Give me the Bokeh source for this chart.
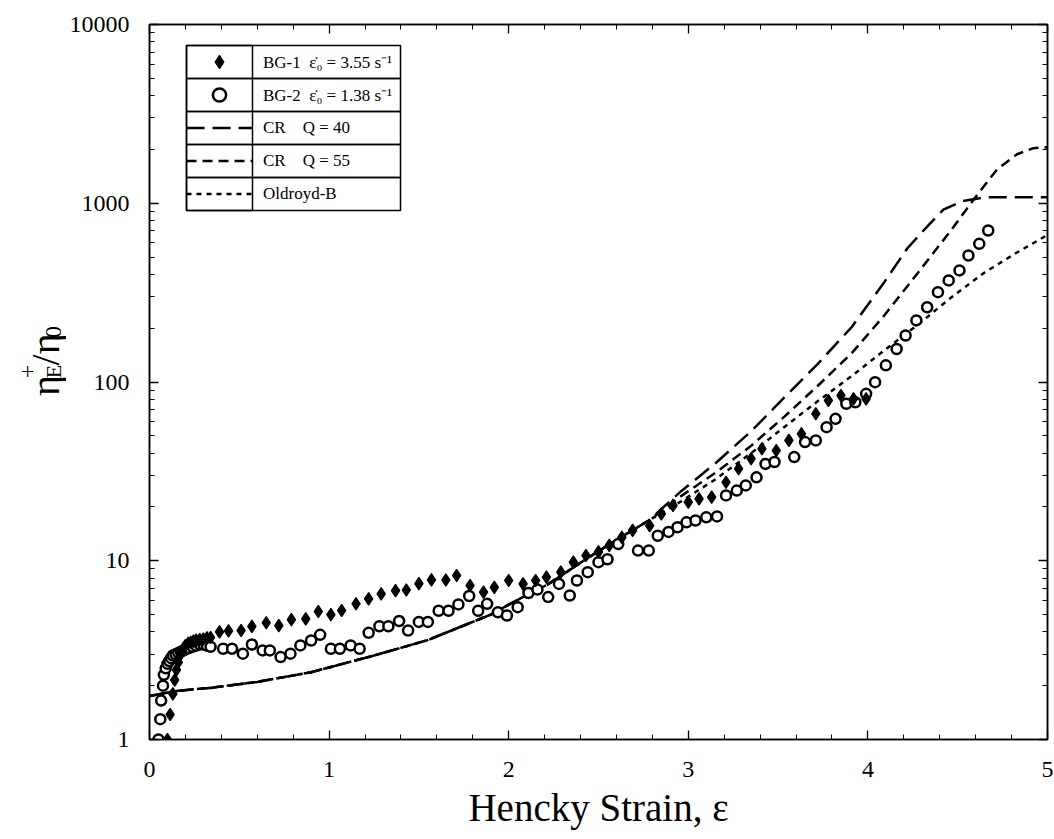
import math
from bokeh.plotting import figure
from bokeh.layouts import row
from bokeh.models import (FixedTicker, Legend, LegendItem, BoxAnnotation,
                          LinearAxis, LogAxis, Range1d, NumeralTickFormatter,
                          CustomJSTickFormatter, ColumnDataSource)
from bokeh.core.properties import value
from bokeh.embed import file_html
from bokeh.resources import INLINE

# ---------------- data ----------------
bg1_x = [0.10, 0.115, 0.13, 0.14, 0.15, 0.16, 0.17, 0.18, 0.19, 0.20, 0.215, 0.23, 0.245,
         0.26, 0.28, 0.30, 0.32, 0.34,
         0.39, 0.44, 0.51, 0.57, 0.65, 0.72, 0.79, 0.87, 0.94, 1.01, 1.07, 1.15, 1.22,
         1.29, 1.37, 1.43, 1.50, 1.57, 1.65, 1.71, 1.785, 1.86, 1.92, 2.00, 2.08, 2.15,
         2.21, 2.29, 2.36, 2.43, 2.50, 2.56, 2.63, 2.69, 2.785, 2.85, 2.915, 3.00, 3.06,
         3.13, 3.21, 3.28, 3.35, 3.41, 3.49, 3.56, 3.63, 3.71, 3.78, 3.85, 3.92, 3.99]
bg1_y = [1.0, 1.38, 1.8, 2.15, 2.45, 2.7, 2.95, 3.1, 3.25, 3.35, 3.45, 3.5, 3.55,
         3.6, 3.62, 3.65, 3.7, 3.72,
         4.0, 4.05, 4.07, 4.29, 4.5, 4.34, 4.68, 4.73, 5.2, 5.0, 5.27, 5.75, 6.12,
         6.53, 6.8, 6.86, 7.45, 7.82, 7.8, 8.27, 7.27, 6.67, 7.1, 7.75, 7.42, 7.75,
         8.09, 8.63, 9.82, 10.7, 11.2, 12.2, 13.5, 14.8, 15.7, 18.3, 20.4, 21.3, 22.2,
         22.7, 27.5, 32.7, 37.2, 42.3, 41.4, 47.1, 51.3, 66.4, 78.8, 84.0, 80.5, 80.5]

bg2_x = [0.05, 0.06, 0.065, 0.075, 0.08, 0.09, 0.10, 0.11, 0.12, 0.13, 0.145, 0.16, 0.175,
         0.19, 0.205, 0.22, 0.24, 0.26, 0.28, 0.30, 0.32, 0.34,
         0.41, 0.46, 0.52, 0.57, 0.63, 0.67, 0.73, 0.785, 0.84, 0.90, 0.95, 1.01, 1.06,
         1.12, 1.17, 1.22, 1.28, 1.33, 1.39, 1.44, 1.50, 1.55, 1.61, 1.665, 1.72, 1.78,
         1.83, 1.88, 1.94, 1.99, 2.05, 2.11, 2.16, 2.22, 2.28, 2.34, 2.38, 2.44, 2.50,
         2.55, 2.61, 2.72, 2.78, 2.83, 2.89, 2.94, 2.99, 3.04, 3.10, 3.16, 3.21, 3.27,
         3.32, 3.38, 3.43, 3.48, 3.59, 3.65, 3.71, 3.77, 3.82, 3.88, 3.93, 3.99, 4.04,
         4.10, 4.16, 4.21, 4.27, 4.33, 4.39, 4.45, 4.51, 4.56, 4.62, 4.67]
bg2_y = [1.0, 1.3, 1.65, 2.0, 2.3, 2.5, 2.65, 2.75, 2.85, 2.95, 3.0, 3.05, 3.1,
         3.15, 3.2, 3.25, 3.3, 3.35, 3.4, 3.4, 3.35, 3.3,
         3.22, 3.22, 3.02, 3.40, 3.15, 3.15, 2.89, 3.02, 3.36, 3.58, 3.85, 3.22, 3.22,
         3.36, 3.22, 3.95, 4.3, 4.3, 4.6, 4.07, 4.55, 4.55, 5.25, 5.25, 5.7, 6.35,
         5.25, 5.74, 5.15, 4.94, 5.5, 6.6, 6.9, 6.26, 7.42, 6.39, 7.75, 8.63, 9.82,
         10.2, 12.4, 11.4, 11.4, 13.8, 14.5, 15.4, 16.4, 16.8, 17.5, 17.7, 23.2, 24.7,
         26.4, 29.3, 34.8, 35.7, 38.0, 46.1, 47.1, 55.9, 62.2, 75.5, 77.0, 85.9, 99.8,
         124, 153, 182, 221, 262, 318, 370, 421, 510, 593, 704]

cr40_x = [0.0, 0.15, 0.35, 0.6, 0.9, 1.25, 1.55, 1.9, 2.03, 2.22, 2.41, 2.59, 2.78,
          2.96, 3.15, 3.35, 3.535, 3.72, 3.91, 4.09, 4.22, 4.33, 4.42, 4.53, 4.65, 5.0]
cr40_y = [1.75, 1.87, 1.95, 2.1, 2.38, 2.95, 3.6, 5.0, 5.9, 7.4, 9.9, 12.9, 16.8,
          24.5, 35, 53, 82, 126, 203, 360, 560, 740, 920, 1030, 1080, 1080]

cr55_x = [0.0, 0.15, 0.35, 0.6, 0.9, 1.25, 1.55, 1.9, 2.03, 2.22, 2.41, 2.59, 2.78,
          2.96, 3.15, 3.35, 3.535, 3.72, 3.91, 4.09, 4.28, 4.46, 4.61, 4.72, 4.83, 4.92, 5.0]
cr55_y = [1.75, 1.87, 1.95, 2.1, 2.38, 2.95, 3.6, 5.0, 5.9, 7.4, 9.9, 12.9, 16.8,
          23, 31, 44, 64, 95, 145, 235, 410, 700, 1120, 1550, 1880, 2030, 2060]

ob_x = [0.0, 0.15, 0.35, 0.6, 0.9, 1.25, 1.55, 1.9, 2.03, 2.22, 2.41, 2.59, 2.78,
        2.96, 3.15, 3.35, 3.535, 3.72, 3.91, 4.09, 4.28, 4.46, 4.65, 4.83, 5.0]
ob_y = [1.75, 1.87, 1.95, 2.1, 2.38, 2.95, 3.6, 5.0, 5.9, 7.4, 9.9, 12.9, 16.8,
        21.5, 28.5, 40, 56, 78, 108, 150, 210, 295, 410, 530, 665]

x_ticks = [0, 1, 2, 3, 4, 5]
y_ticks = [1, 10, 100, 1000, 10000]

legend_labels = ["BG-1  ε̇₀ = 3.55 s⁻¹", "BG-2  ε̇₀ = 1.38 s⁻¹",
                 "CR    Q = 40", "CR    Q = 55", "Oldroyd-B"]

# y-axis title pieces: η_E^+ / η_0
ylabel_text = ["η", "+", "E", "/η", "0"]
ylabel_size = ["40px", "24px", "22px", "40px", "24px"]

# ---------------- layout ----------------
W, H = 1054, 839
LW = 66                      # width of the strip that carries the y-axis title
FL, FR, FT, FB = 147, 7, 24, 100
SERIF = "Liberation Serif"

p = figure(width=W - LW, height=H, y_axis_type="log",
           x_range=Range1d(0, 5), y_range=Range1d(1, 10000),
           output_backend="svg", toolbar_location=None,
           min_border_left=FL - LW, min_border_right=FR,
           min_border_top=FT, min_border_bottom=FB)
p.background_fill_color = "white"
p.border_fill_color = "white"
p.outline_line_color = "black"
p.outline_line_width = 1.5
p.xgrid.visible = False
p.ygrid.visible = False

x_minor = [round(0.2 * i, 2) for i in range(26)]
y_minor = [m * 10 ** e for e in range(4) for m in range(2, 10)]
xt = FixedTicker(ticks=x_ticks, minor_ticks=x_minor)
yt = FixedTicker(ticks=y_ticks, minor_ticks=y_minor)


def style_axis(ax):
    ax.axis_line_color = "black"
    ax.axis_line_width = 1.5
    ax.major_tick_in = 9
    ax.major_tick_out = 0
    ax.minor_tick_in = 5
    ax.minor_tick_out = 0
    ax.major_tick_line_width = 1.3
    ax.minor_tick_line_width = 1.0
    ax.major_label_text_font = SERIF
    ax.major_label_text_color = "black"


xa = p.xaxis[0]
xa.ticker = xt
xa.formatter = NumeralTickFormatter(format="0")
style_axis(xa)
xa.major_label_text_font_size = "24px"
xa.major_label_standoff = 22
xa.axis_label = "Hencky Strain, ε"
xa.axis_label_text_font = SERIF
xa.axis_label_text_font_style = "normal"
xa.axis_label_text_color = "black"
xa.axis_label_text_font_size = "39px"
xa.axis_label_standoff = 6

ya = p.yaxis[0]
ya.ticker = yt
ya.formatter = NumeralTickFormatter(format="0")
style_axis(ya)
ya.major_label_text_font_size = "24px"
ya.major_label_standoff = 20

blank = CustomJSTickFormatter(code="return ''")
top_ax = LinearAxis(ticker=xt, formatter=blank, major_label_standoff=0)
style_axis(top_ax)
p.add_layout(top_ax, "above")
right_ax = LogAxis(ticker=yt, formatter=blank, major_label_standoff=0)
style_axis(right_ax)
p.add_layout(right_ax, "right")

# ---------------- data marks ----------------
r40 = p.line(cr40_x, cr40_y, line_color="black", line_width=2.5, line_dash="18 8")
r55 = p.line(cr55_x, cr55_y, line_color="black", line_width=2.5, line_dash="10 6")
rob = p.line(ob_x, ob_y, line_color="black", line_width=2.5, line_dash="5 5")
r2 = p.scatter(bg2_x, bg2_y, marker="circle", size=10, line_color="black",
               line_width=2.5, fill_color="white")
r1 = p.scatter(bg1_x, bg1_y, marker="diamond", size=12.5,
               line_color="black", line_width=1.2, fill_color="black")

# ---------------- legend (table style) ----------------
LEG_L, LEG_TOP, ROW_H, GLYPH_W, LEG_W = 37, 694, 33, 66, 214
NROWS = len(legend_labels)
items = [LegendItem(label=lab, renderers=[r]) for lab, r in
         zip(legend_labels, [r1, r2, r40, r55, rob])]
leg = Legend(items=items, location=(LEG_L, LEG_TOP - ROW_H * NROWS), padding=0, spacing=0,
             label_height=ROW_H, glyph_height=ROW_H, glyph_width=GLYPH_W,
             label_standoff=11, label_text_font=SERIF, label_text_font_size="17px",
             label_text_color="black", border_line_color=None,
             background_fill_alpha=0.0)
p.add_layout(leg)

for i in range(NROWS):
    p.add_layout(BoxAnnotation(left=LEG_L, right=LEG_L + LEG_W,
                               top=LEG_TOP - ROW_H * i, bottom=LEG_TOP - ROW_H * (i + 1),
                               left_units="screen", right_units="screen",
                               top_units="screen", bottom_units="screen",
                               fill_alpha=0, line_color="black", line_width=1.5,
                               line_alpha=1, level="overlay"))
p.add_layout(BoxAnnotation(left=LEG_L, right=LEG_L + GLYPH_W,
                           top=LEG_TOP, bottom=LEG_TOP - ROW_H * NROWS,
                           left_units="screen", right_units="screen",
                           top_units="screen", bottom_units="screen",
                           fill_alpha=0, line_color="black", line_width=1.5, line_alpha=1,
                           level="overlay"))

# ---------------- y-axis title strip ----------------
lab = figure(width=LW, height=H, x_range=Range1d(0, LW), y_range=Range1d(0, H),
             output_backend="svg", toolbar_location=None, min_border=0,
             x_axis_location=None, y_axis_location=None)
lab.outline_line_color = None
lab.grid.visible = False
lab.background_fill_color = "white"
lab.border_fill_color = "white"
# baseline positions (pixels from left / from bottom) of each title piece
title_src = ColumnDataSource(dict(
    x=[45, 27, 53, 45, 53],
    y=[H - 436, H - 415, H - 415, H - 400, H - 368],
    text=ylabel_text, size=ylabel_size))
lab.text(x="x", y="y", text="text", source=title_src, angle=math.pi / 2,
         text_align="left", text_baseline="alphabetic", text_font=value(SERIF),
         text_font_size="size", text_color="black")

layout = row(lab, p, spacing=0)
open("out.html", "w").write(file_html(layout, INLINE))
